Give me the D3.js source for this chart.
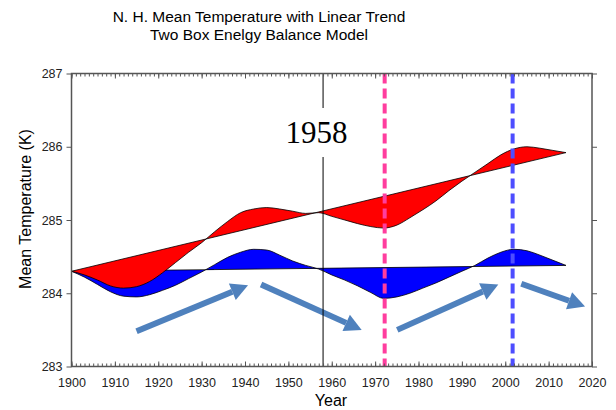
<!DOCTYPE html>
<html>
<head>
<meta charset="utf-8">
<script src="https://cdn.jsdelivr.net/npm/d3@7"></script>
<style>
  body { margin: 0; background: #fff; }
  svg { display: block; font-family: "Liberation Sans", Arial, sans-serif; }
</style>
</head>
<body>
<div id="chart"></div>
<script>
// years sampled along both curves
const years = [1900, 1903, 1906, 1909, 1912, 1915, 1918, 1921, 1924, 1927, 1930, 1933, 1936,
  1939, 1942, 1945, 1948, 1951, 1954, 1957, 1960, 1963, 1966, 1969, 1972, 1975, 1978,
  1981, 1984, 1987, 1990, 1993, 1996, 1999, 2002, 2005, 2008, 2011, 2014]

// red: mean temperature with linear trend (area closes back along the trend line)
const withTrend = [284.30, 284.25, 284.18, 284.10, 284.07, 284.09, 284.16, 284.28, 284.42,
  284.56, 284.69, 284.84, 284.98, 285.10, 285.15, 285.17, 285.15, 285.12, 285.09, 285.10,
  285.05, 285.00, 284.95, 284.91, 284.89, 284.93, 285.03, 285.14, 285.26, 285.40, 285.53,
  285.65, 285.77, 285.89, 285.97, 286.00, 285.98, 285.95, 285.92]

// blue: detrended temperature (area closes back along the flat baseline)
const detrended = [284.30, 284.22, 284.12, 284.02, 283.96, 283.95, 283.98, 284.04, 284.11,
  284.20, 284.29, 284.39, 284.49, 284.56, 284.60, 284.59, 284.52, 284.44, 284.38, 284.33,
  284.25, 284.18, 284.10, 284.01, 283.93, 283.95, 284.00, 284.07, 284.14, 284.22, 284.30,
  284.38, 284.48, 284.56, 284.60, 284.58, 284.52, 284.45, 284.38]

// annotation arrows: [year0, temp0, year1, temp1]
const arrows = [
  [1915.0, 283.48, 1940.7, 284.11],
  [1943.7, 284.12, 1966.9, 283.50],
  [1975.1, 283.50, 1998.4, 284.12],
  [2003.7, 284.13, 2018.4, 283.82]
]

const markYears = {black: 1958, pink: 1972.2, blue: 2001.7}
const xTicks = d3.range(1900, 2021, 10)
const yTicks = [283, 284, 285, 286, 287]

const W = 616, H = 410
const x = d3.scaleLinear().domain([1900, 2020]).range([71.5, 592])
const y = d3.scaleLinear().domain([283, 287]).range([366.5, 73.5])

const svg = d3.select("#chart").append("svg")
  .attr("width", W)
  .attr("height", H)

// titles
svg.append("text")
  .attr("x", 259).attr("y", 22)
  .attr("text-anchor", "middle")
  .style("font-size", "15.5px")
  .text("N. H. Mean Temperature with Linear Trend")
svg.append("text")
  .attr("x", 259).attr("y", 40)
  .attr("text-anchor", "middle")
  .style("font-size", "15.5px")
  .text("Two Box Enelgy Balance Model")

const line = d3.line()
  .x(d => x(d[0]))
  .y(d => y(d[1]))
  .curve(d3.curveMonotoneX)

const bluePts = years.map((yr, i) => [yr, detrended[i]])
const redPts = years.map((yr, i) => [yr, withTrend[i]])

svg.append("path")
  .attr("d", line(bluePts) + "Z")
  .attr("fill", "#0000ff")
  .attr("stroke", "#000")
  .attr("stroke-width", 0.8)

svg.append("path")
  .attr("d", line(redPts) + "Z")
  .attr("fill", "#ff0000")
  .attr("stroke", "#000")
  .attr("stroke-width", 0.8)

// arrows
const arrowCol = "#4f81bd"
arrows.forEach(a => {
  const x0 = x(a[0]), y0 = y(a[1]), x1 = x(a[2]), y1 = y(a[3])
  const ang = Math.atan2(y1 - y0, x1 - x0)
  const hl = 17, hw = 9
  const bx = x1 - hl * Math.cos(ang), by = y1 - hl * Math.sin(ang)
  svg.append("line")
    .attr("x1", x0).attr("y1", y0)
    .attr("x2", bx).attr("y2", by)
    .attr("stroke", arrowCol)
    .attr("stroke-width", 6)
  const px = -Math.sin(ang), py = Math.cos(ang)
  svg.append("polygon")
    .attr("points", [
      [x1, y1],
      [bx + px * hw, by + py * hw],
      [bx - px * hw, by - py * hw]
    ].map(p => p.join(",")).join(" "))
    .attr("fill", arrowCol)
})

// vertical marker lines
svg.append("line")
  .attr("x1", x(markYears.black)).attr("x2", x(markYears.black))
  .attr("y1", y(287)).attr("y2", y(283))
  .attr("stroke", "#000")
  .attr("stroke-width", 1)

svg.append("rect")
  .attr("x", 284).attr("y", 108)
  .attr("width", 66).attr("height", 49)
  .attr("fill", "#fff")
svg.append("text")
  .attr("x", 316.5).attr("y", 143)
  .attr("text-anchor", "middle")
  .style("font-family", "'Liberation Serif', 'Times New Roman', serif")
  .style("font-size", "31px")
  .text("1958")

svg.append("line")
  .attr("x1", x(markYears.pink)).attr("x2", x(markYears.pink))
  .attr("y1", y(287)).attr("y2", y(283))
  .attr("stroke", "#ff3d9e")
  .attr("stroke-width", 4)
  .attr("stroke-dasharray", "10,5")

svg.append("line")
  .attr("x1", x(markYears.blue)).attr("x2", x(markYears.blue))
  .attr("y1", y(287)).attr("y2", y(283))
  .attr("stroke", "#4d4dff")
  .attr("stroke-width", 4)
  .attr("stroke-dasharray", "10,5")

// axes
const axisCol = "#555"
function styleAxis(g) {
  g.select(".domain").remove()
  g.selectAll(".tick line").attr("stroke", axisCol)
  g.selectAll("text").attr("fill", "#222").style("font-size", "12.5px")
}

svg.append("g")
  .attr("transform", `translate(0,${y(283)})`)
  .call(d3.axisBottom(x).tickValues(d3.range(1900, 2021, 1)).tickSize(-3).tickFormat(""))
  .call(styleAxis)
svg.append("g")
  .attr("transform", `translate(0,${y(283)})`)
  .call(d3.axisBottom(x).tickValues(xTicks).tickSize(-5).tickPadding(12).tickFormat(d3.format("d")))
  .call(styleAxis)

svg.append("g")
  .attr("transform", `translate(0,${y(287)})`)
  .call(d3.axisTop(x).tickValues(d3.range(1900, 2021, 1)).tickSize(-3).tickFormat(""))
  .call(styleAxis)
svg.append("g")
  .attr("transform", `translate(0,${y(287)})`)
  .call(d3.axisTop(x).tickValues(xTicks).tickSize(-5).tickFormat(""))
  .call(styleAxis)

svg.append("g")
  .attr("transform", `translate(${x(1900)},0)`)
  .call(d3.axisLeft(y).tickValues(yTicks).tickSize(5).tickPadding(4).tickFormat(d3.format("d")))
  .call(styleAxis)
svg.append("g")
  .attr("transform", `translate(${x(2020)},0)`)
  .call(d3.axisRight(y).tickValues(yTicks).tickSize(5).tickFormat(""))
  .call(styleAxis)

svg.append("rect")
  .attr("x", x(1900)).attr("y", y(287))
  .attr("width", x(2020) - x(1900))
  .attr("height", y(283) - y(287))
  .attr("fill", "none")
  .attr("stroke", axisCol)
  .attr("stroke-width", 1.5)

// axis titles
svg.append("text")
  .attr("x", 331).attr("y", 406)
  .attr("text-anchor", "middle")
  .style("font-size", "16px")
  .text("Year")
svg.append("text")
  .attr("transform", "translate(31,209) rotate(-90)")
  .attr("text-anchor", "middle")
  .style("font-size", "16px")
  .text("Mean Temperature (K)")
</script>
</body>
</html>
